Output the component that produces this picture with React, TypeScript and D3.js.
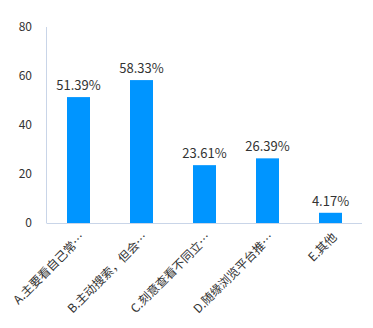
import React from "react";
import * as d3 from "d3";

const categories = ["A.主要看自己常…", "B.主动搜索，但会…", "C.刻意查看不同立…", "D.随缘浏览平台推…", "E.其他"];
const values = [51.39, 58.33, 23.61, 26.39, 4.17];
const yTicks = [0, 20, 40, 60, 80];

export default function App() {
  const W = 373, H = 328;
  const left = 47, right = 362, top = 27, bottom = 223;
  const x = d3.scaleBand<string>().domain(categories).range([left, right]).padding(0);
  const y = d3.scaleLinear().domain([0, 80]).range([bottom, top]);
  const barW = 23;
  const font = "'Microsoft YaHei', 'Noto Sans CJK SC', 'Noto Sans', sans-serif";
  return (
    <svg width={W} height={H} style={{ position: "absolute", left: 0, top: 0 }} fontFamily={font}>
      <rect width={W} height={H} fill="#fff" />
      <line x1={left - 0.5} x2={left - 0.5} y1={top} y2={bottom} stroke="#c9d5e8" />
      <line x1={left - 0.5} x2={right} y1={bottom + 0.5} y2={bottom + 0.5} stroke="#c9d5e8" />
      {yTicks.map((t) => (
        <text key={t} x={32} y={y(t)} dy="0.35em" textAnchor="end" fontSize={12} fill="#333">
          {t}
        </text>
      ))}
      {categories.map((c, i) => {
        const cx = (x(c) as number) + x.bandwidth() / 2;
        return (
          <g key={c}>
            <rect x={cx - barW / 2} y={y(values[i])} width={barW} height={bottom - y(values[i])} fill="#0095ff" />
            <text x={cx} y={y(values[i]) - 7} textAnchor="middle" fontSize={13} fill="#333">
              {values[i].toFixed(2)}%
            </text>
            <text
              transform={`translate(${cx + 4},${bottom + 12}) rotate(-45)`}
              textAnchor="end"
              dy="0.35em"
              fontSize={12}
              fill="#333"
            >
              {c}
            </text>
          </g>
        );
      })}
    </svg>
  );
}
